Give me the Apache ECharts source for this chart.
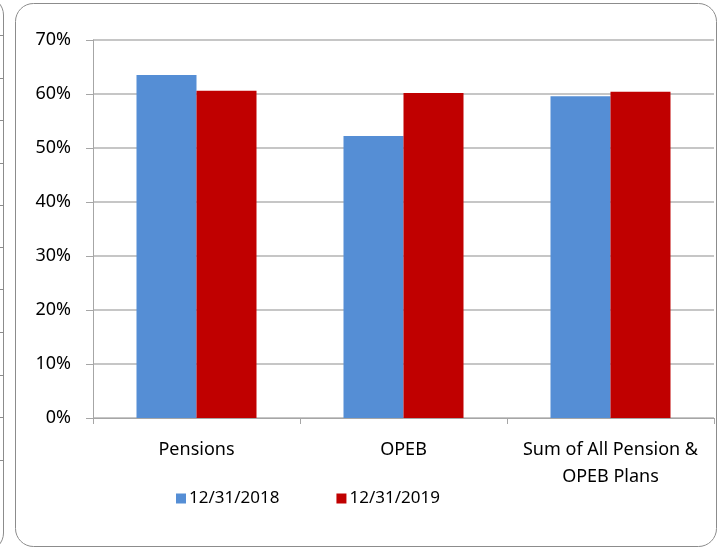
<!DOCTYPE html>
<html>
<head>
<meta charset="utf-8">
<script src="https://cdn.jsdelivr.net/npm/echarts@6/dist/echarts.min.js"></script>
<style>html,body{margin:0;padding:0;background:#fff}#c{width:725px;height:548px}</style>
</head>
<body>
<div id="c"></div>
<script>
const categories = ['Pensions', 'OPEB', 'Sum of All Pension &\nOPEB Plans'];
const seriesNames = ['12/31/2018', '12/31/2019'];
const values2018 = [63.5, 52.2, 59.6];
const values2019 = [60.6, 60.2, 60.4];
const yTicks = [0, 10, 20, 30, 40, 50, 60, 70];
const leftStripTicks = [35, 78, 120, 163, 205, 247, 289, 332, 375, 417, 460];

const chart = echarts.init(document.getElementById('c'));
const FONT = 'Noto Sans';
const graphics = [
  {type:'rect', shape:{x:15.5, y:3.5, width:701, height:543, r:18}, style:{fill:'none', stroke:'#8c8c8c', lineWidth:1}, z:-1},
  {type:'rect', shape:{x:-400, y:-3, width:403.5, height:554, r:18}, style:{fill:'none', stroke:'#8c8c8c', lineWidth:1}, z:-1}
];
leftStripTicks.forEach(y => graphics.push({type:'line', shape:{x1:0, y1:y+0.5, x2:3, y2:y+0.5}, style:{stroke:'#8c8c8c', lineWidth:1}}));

chart.setOption({
  animation: false,
  graphic: graphics,
  grid: {left: 93, right: 11, top: 40, bottom: 130, containLabel: false},
  legend: {
    bottom: 36, left: 171,
    itemWidth: 10, itemHeight: 10, itemGap: 57,
    icon: 'rect',
    textStyle: {fontFamily: FONT, fontSize: 17, color: '#000', padding: [0,0,0,-2]},
    data: seriesNames
  },
  xAxis: {
    type: 'category', data: categories,
    axisLine: {lineStyle: {color: '#a6a6a6'}},
    axisTick: {show: true, length: 6, lineStyle: {color: '#a6a6a6'}},
    axisLabel: {fontFamily: FONT, fontSize: 18, color: '#000', margin: 18, lineHeight: 27, interval: 0}
  },
  yAxis: {
    type: 'value', min: 0, max: 70, interval: 10,
    axisLine: {show: true, lineStyle: {color: '#a6a6a6'}},
    axisTick: {show: true, length: 7, lineStyle: {color: '#a6a6a6'}},
    splitLine: {lineStyle: {color: '#b3b3b3', width: 1.5}},
    axisLabel: {fontFamily: FONT, fontSize: 18, color: '#000', margin: 22, formatter: '{value}%'}
  },
  series: [
    {name: seriesNames[0], type: 'bar', data: values2018, barWidth: 60, barGap: '0%', itemStyle: {color: '#558ED5'}},
    {name: seriesNames[1], type: 'bar', data: values2019, barWidth: 60, barGap: '0%', itemStyle: {color: '#C00000'}}
  ]
});
</script>
</body>
</html>
